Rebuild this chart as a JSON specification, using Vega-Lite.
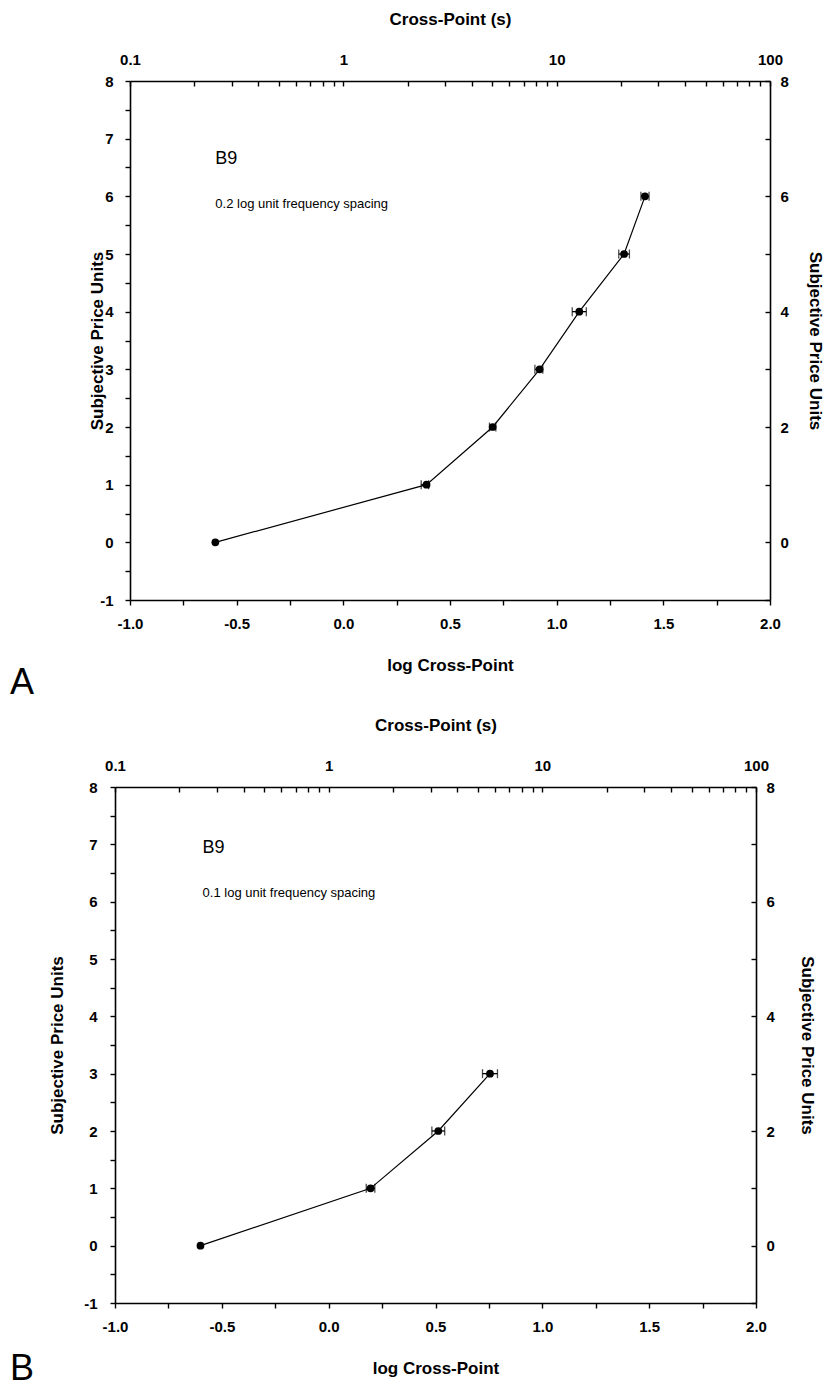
{
  "$schema": "https://vega.github.io/schema/vega-lite/v6.json",
  "background": "white",
  "padding": {"left": 3, "top": 10, "right": 5, "bottom": 5},
  "spacing": 15,
  "datasets": {
    "A": [
      {"logx": -0.60, "price": 0, "lo": -0.60, "hi": -0.60},
      {"logx": 0.39, "price": 1, "lo": 0.365, "hi": 0.40},
      {"logx": 0.70, "price": 2, "lo": 0.685, "hi": 0.715},
      {"logx": 0.92, "price": 3, "lo": 0.898, "hi": 0.935},
      {"logx": 1.106, "price": 4, "lo": 1.073, "hi": 1.139},
      {"logx": 1.316, "price": 5, "lo": 1.291, "hi": 1.341},
      {"logx": 1.414, "price": 6, "lo": 1.395, "hi": 1.433}
    ],
    "B": [
      {"logx": -0.60, "price": 0, "lo": -0.60, "hi": -0.60},
      {"logx": 0.196, "price": 1, "lo": 0.176, "hi": 0.216},
      {"logx": 0.513, "price": 2, "lo": 0.483, "hi": 0.543},
      {"logx": 0.755, "price": 3, "lo": 0.72, "hi": 0.79}
    ],
    "textA": [
      {"tx": -0.60, "ty": 6.65, "label": "B9", "size": "big"},
      {"tx": -0.60, "ty": 5.87, "label": "0.2 log unit frequency spacing", "size": "small"}
    ],
    "textB": [
      {"tx": -0.59, "ty": 6.94, "label": "B9", "size": "big"},
      {"tx": -0.59, "ty": 6.15, "label": "0.1 log unit frequency spacing", "size": "small"}
    ],
    "secs": [{"s": 0.1}, {"s": 100}],
    "none": [{"k": 0}]
  },
  "config": {
    "view": {"stroke": null},
    "font": "Liberation Sans",
    "axis": {
      "grid": false,
      "domainColor": "black",
      "domainWidth": 1.6,
      "tickColor": "black",
      "tickWidth": 1.4,
      "labelColor": "black",
      "titleColor": "black",
      "labelFont": "Liberation Sans",
      "titleFont": "Liberation Sans",
      "labelFontSize": 15,
      "labelFontWeight": "bold",
      "titleFontSize": 17,
      "titleFontWeight": "bold"
    }
  },
  "vconcat": [
    {"spacing": 0, "hconcat": [
    {"width": 1, "height": 1, "data": {"name": "none"}, "mark": {"type": "point", "opacity": 0}, "encoding": {}},
    {
      "width": 640,
      "height": 519,
      "title": {"text": "A", "orient": "bottom", "anchor": "start", "frame": "group", "dx": -120, "dy": -11, "offset": 4, "fontSize": 36, "fontWeight": "normal", "font": "Liberation Sans", "color": "black"},
      "resolve": {"scale": {"x": "independent", "y": "independent"}},
      "layer": [
        {
          "data": {"name": "A"},
          "mark": {"type": "line", "color": "black", "strokeWidth": 1.2},
          "encoding": {
            "x": {"field": "logx", "type": "quantitative", "scale": {"domain": [-1, 2], "nice": false, "zero": false},
              "axis": {"orient": "bottom", "title": "log Cross-Point", "values": [-1, -0.75, -0.5, -0.25, 0, 0.25, 0.5, 0.75, 1, 1.25, 1.5, 1.75, 2],
                "labelExpr": "abs(datum.value*2 - round(datum.value*2)) < 0.001 ? replace(format(datum.value, '.1f'), '\u2212', '-') : ''",
                "tickSize": 5, "labelPadding": 11, "titlePadding": 26, "labelFlush": false}},
            "y": {"field": "price", "type": "quantitative", "scale": {"domain": [-1, 8], "nice": false, "zero": false},
              "axis": {"orient": "left", "title": "Subjective Price Units", "values": [-1, -0.5, 0, 0.5, 1, 1.5, 2, 2.5, 3, 3.5, 4, 4.5, 5, 5.5, 6, 6.5, 7, 7.5, 8],
                "labelExpr": "datum.value == round(datum.value) ? replace(format(datum.value, 'd'), '\u2212', '-') : ''",
                "tickSize": 5, "labelPadding": 12, "titlePadding": -7}}
          }
        },
        {
          "data": {"name": "A"},
          "transform": [{"filter": "datum.hi > datum.lo"}],
          "mark": {"type": "errorbar", "color": "black", "ticks": {"size": 9, "thickness": 1.3}, "rule": {"strokeWidth": 1.3}},
          "encoding": {
            "x": {"field": "lo", "type": "quantitative", "scale": {"domain": [-1, 2], "nice": false, "zero": false}, "axis": null},
            "x2": {"field": "hi"},
            "y": {"field": "price", "type": "quantitative", "scale": {"domain": [-1, 8], "nice": false, "zero": false}, "axis": null}
          }
        },
        {
          "data": {"name": "A"},
          "mark": {"type": "circle", "color": "black", "opacity": 1, "size": 60},
          "encoding": {
            "x": {"field": "logx", "type": "quantitative", "scale": {"domain": [-1, 2], "nice": false, "zero": false}, "axis": null},
            "y": {"field": "price", "type": "quantitative", "scale": {"domain": [-1, 8], "nice": false, "zero": false}, "axis": null}
          }
        },
        {
          "data": {"name": "textA"},
          "mark": {"type": "text", "align": "left", "baseline": "middle", "color": "black", "font": "Liberation Sans"},
          "encoding": {
            "x": {"field": "tx", "type": "quantitative", "scale": {"domain": [-1, 2], "nice": false, "zero": false}, "axis": null},
            "y": {"field": "ty", "type": "quantitative", "scale": {"domain": [-1, 8], "nice": false, "zero": false}, "axis": null},
            "text": {"field": "label"},
            "size": {"field": "size", "type": "nominal", "scale": {"domain": ["big", "small"], "range": [18, 13]}, "legend": null}
          }
        },
        {
          "data": {"name": "secs"},
          "mark": {"type": "point", "opacity": 0},
          "encoding": {
            "x": {"field": "s", "type": "quantitative", "scale": {"type": "log", "domain": [0.1, 100], "nice": false},
              "axis": {"orient": "top", "title": "Cross-Point (s)", "values": [0.1, 0.2, 0.3, 0.4, 0.5, 0.6, 0.7, 0.8, 0.9, 1, 2, 3, 4, 5, 6, 7, 8, 9, 10, 20, 30, 40, 50, 60, 70, 80, 90, 100],
                "labelExpr": "datum.value == 0.1 ? '0.1' : datum.value == 1 ? '1' : datum.value == 10 ? '10' : datum.value == 100 ? '100' : ''",
                "tickSize": -5, "labelPadding": 19, "titlePadding": 24, "labelFlush": false}}
          }
        },
        {
          "data": {"name": "A"},
          "mark": {"type": "point", "opacity": 0},
          "encoding": {
            "y": {"field": "price", "type": "quantitative", "scale": {"domain": [-1, 8], "nice": false, "zero": false},
              "axis": {"orient": "right", "title": "Subjective Price Units", "values": [-1, 0, 1, 2, 3, 4, 5, 6, 7, 8],
                "labelExpr": "datum.value >= 0 && datum.value % 2 == 0 ? format(datum.value, 'd') : ''",
                "tickSize": -5, "labelPadding": 15, "titlePadding": 17}}
          }
        }
      ]
    }
    ]},
    {"spacing": 0, "hconcat": [
    {"width": 1, "height": 1, "data": {"name": "none"}, "mark": {"type": "point", "opacity": 0}, "encoding": {}},
    {
      "width": 641,
      "height": 516,
      "title": {"text": "B", "orient": "bottom", "anchor": "start", "frame": "group", "dx": -105, "dy": -24, "offset": 0, "fontSize": 36, "fontWeight": "normal", "font": "Liberation Sans", "color": "black"},
      "resolve": {"scale": {"x": "independent", "y": "independent"}},
      "layer": [
        {
          "data": {"name": "B"},
          "mark": {"type": "line", "color": "black", "strokeWidth": 1.2},
          "encoding": {
            "x": {"field": "logx", "type": "quantitative", "scale": {"domain": [-1, 2], "nice": false, "zero": false},
              "axis": {"orient": "bottom", "title": "log Cross-Point", "values": [-1, -0.75, -0.5, -0.25, 0, 0.25, 0.5, 0.75, 1, 1.25, 1.5, 1.75, 2],
                "labelExpr": "abs(datum.value*2 - round(datum.value*2)) < 0.001 ? replace(format(datum.value, '.1f'), '\u2212', '-') : ''",
                "tickSize": 5, "labelPadding": 11, "titlePadding": 26, "labelFlush": false}},
            "y": {"field": "price", "type": "quantitative", "scale": {"domain": [-1, 8], "nice": false, "zero": false},
              "axis": {"orient": "left", "title": "Subjective Price Units", "values": [-1, -0.5, 0, 0.5, 1, 1.5, 2, 2.5, 3, 3.5, 4, 4.5, 5, 5.5, 6, 6.5, 7, 7.5, 8],
                "labelExpr": "datum.value == round(datum.value) ? replace(format(datum.value, 'd'), '\u2212', '-') : ''",
                "tickSize": 5, "labelPadding": 13, "titlePadding": 17}}
          }
        },
        {
          "data": {"name": "B"},
          "transform": [{"filter": "datum.hi > datum.lo"}],
          "mark": {"type": "errorbar", "color": "black", "ticks": {"size": 9, "thickness": 1.3}, "rule": {"strokeWidth": 1.3}},
          "encoding": {
            "x": {"field": "lo", "type": "quantitative", "scale": {"domain": [-1, 2], "nice": false, "zero": false}, "axis": null},
            "x2": {"field": "hi"},
            "y": {"field": "price", "type": "quantitative", "scale": {"domain": [-1, 8], "nice": false, "zero": false}, "axis": null}
          }
        },
        {
          "data": {"name": "B"},
          "mark": {"type": "circle", "color": "black", "opacity": 1, "size": 60},
          "encoding": {
            "x": {"field": "logx", "type": "quantitative", "scale": {"domain": [-1, 2], "nice": false, "zero": false}, "axis": null},
            "y": {"field": "price", "type": "quantitative", "scale": {"domain": [-1, 8], "nice": false, "zero": false}, "axis": null}
          }
        },
        {
          "data": {"name": "textB"},
          "mark": {"type": "text", "align": "left", "baseline": "middle", "color": "black", "font": "Liberation Sans"},
          "encoding": {
            "x": {"field": "tx", "type": "quantitative", "scale": {"domain": [-1, 2], "nice": false, "zero": false}, "axis": null},
            "y": {"field": "ty", "type": "quantitative", "scale": {"domain": [-1, 8], "nice": false, "zero": false}, "axis": null},
            "text": {"field": "label"},
            "size": {"field": "size", "type": "nominal", "scale": {"domain": ["big", "small"], "range": [18, 13]}, "legend": null}
          }
        },
        {
          "data": {"name": "secs"},
          "mark": {"type": "point", "opacity": 0},
          "encoding": {
            "x": {"field": "s", "type": "quantitative", "scale": {"type": "log", "domain": [0.1, 100], "nice": false},
              "axis": {"orient": "top", "title": "Cross-Point (s)", "values": [0.1, 0.2, 0.3, 0.4, 0.5, 0.6, 0.7, 0.8, 0.9, 1, 2, 3, 4, 5, 6, 7, 8, 9, 10, 20, 30, 40, 50, 60, 70, 80, 90, 100],
                "labelExpr": "datum.value == 0.1 ? '0.1' : datum.value == 1 ? '1' : datum.value == 10 ? '10' : datum.value == 100 ? '100' : ''",
                "tickSize": -5, "labelPadding": 19, "titlePadding": 24, "labelFlush": false}}
          }
        },
        {
          "data": {"name": "B"},
          "mark": {"type": "point", "opacity": 0},
          "encoding": {
            "y": {"field": "price", "type": "quantitative", "scale": {"domain": [-1, 8], "nice": false, "zero": false},
              "axis": {"orient": "right", "title": "Subjective Price Units", "values": [-1, 0, 1, 2, 3, 4, 5, 6, 7, 8],
                "labelExpr": "datum.value >= 0 && datum.value % 2 == 0 ? format(datum.value, 'd') : ''",
                "tickSize": -5, "labelPadding": 15, "titlePadding": 23}}
          }
        }
      ]
    }
    ]}
  ]
}
